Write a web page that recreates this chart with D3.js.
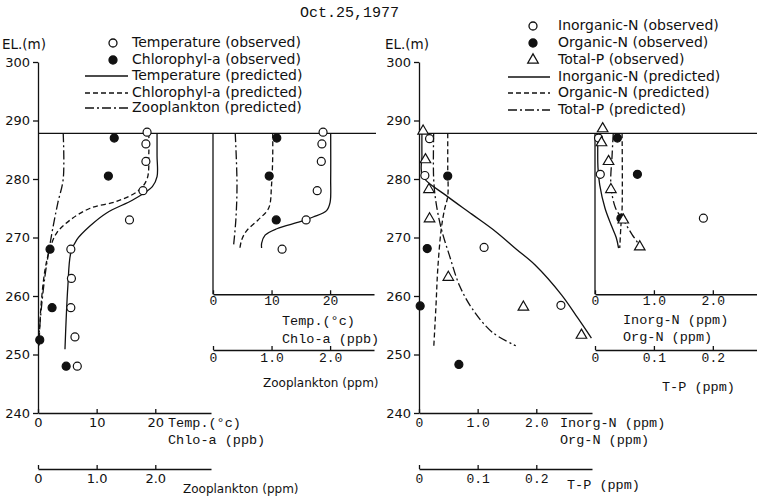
<!DOCTYPE html>
<html>
<head>
<meta charset="utf-8">
<script src="https://cdn.jsdelivr.net/npm/d3@7"></script>
<style>
  body { margin: 0; background: #fff; }
  .sans { font-family: "DejaVu Sans", sans-serif; }
  .mono { font-family: "Liberation Mono", "DejaVu Sans Mono", monospace; }
</style>
</head>
<body>
<svg id="chart" width="757" height="500"></svg>
<script>
// elevation of lake surface and bottom of inset station
const surfaceEl = 287.8;
const insetBottomEl = 260.3;
const elevTicks = [240, 250, 260, 270, 280, 290, 300];

// ---- left panel (main station) ----
const tempObsEl = [288, 286, 283, 278, 273, 268, 263, 258, 253, 248];
const tempObs = [18.6, 18.4, 18.4, 17.9, 15.6, 5.6, 5.7, 5.6, 6.3, 6.7];
const chloObsEl = [287, 280.5, 268, 258, 252.5, 248];
const chloObs = [13.0, 12.0, 2.05, 2.4, 0.3, 4.8];
const tempPredEl = [287.8, 284, 280.4, 278.7, 276.5, 274.2, 272, 269.6, 267.4, 261.8, 256, 250.9];
const tempPred = [20.3, 20.3, 20.3, 19.5, 16.3, 11.7, 8.9, 6.6, 5.6, 5.1, 4.8, 4.6];
const chloPredEl = [287.8, 284.5, 280, 278, 276.2, 275, 273, 270.8, 268, 264.5, 259.4, 254.8, 251.4];
const chloPred = [18.9, 18.9, 18.6, 17.1, 13.5, 8.9, 5.5, 3.2, 2.0, 1.2, 0.6, 0.3, 0.2];
const zooPredEl = [287.8, 280, 276, 272, 268, 263.5, 258.2, 253.7, 251.5];
const zooPred = [0.43, 0.43, 0.34, 0.26, 0.19, 0.12, 0.06, 0.02, 0.0];

// ---- left inset ----
const tempObsInEl = [288, 286, 283, 278, 273, 268];
const tempObsIn = [18.8, 18.6, 18.5, 17.8, 15.9, 11.8];
const chloObsInEl = [287, 280.5, 273];
const chloObsIn = [10.9, 9.6, 10.8];
const tempPredInEl = [287.8, 280, 276, 274.6, 273.5, 272.7, 271.5, 270.4, 269, 268.2];
const tempPredIn = [20.1, 20.1, 20.0, 19.4, 17.1, 14.9, 10.9, 8.9, 8.3, 8.3];
const chloPredInEl = [287.8, 284, 279, 275, 273, 271.1, 269.6, 268.2];
const chloPredIn = [10.2, 10.2, 10.0, 9.5, 7.7, 5.7, 4.9, 4.6];
const zooPredInEl = [287.8, 279, 273, 268.5];
const zooPredIn = [0.38, 0.41, 0.39, 0.35];

// ---- right panel (main station) ----
const inObsEl = [286.9, 280.6, 268.3, 258.4];
const inObs = [0.18, 0.10, 1.11, 2.42];
const orgObsEl = [280.5, 268.1, 258.3, 248.3];
const orgObs = [0.49, 0.14, 0.02, 0.68];
const tpObsEl = [288.2, 283.3, 278.2, 273.2, 263.2, 258.1, 253.3];
const tpObs = [0.007, 0.011, 0.017, 0.018, 0.050, 0.178, 0.277];
const inPredEl = [287.8, 284, 280.5, 277.2, 274, 271, 268, 265.3, 260.2, 256.2, 252.8];
const inPred = [0.05, 0.05, 0.06, 0.46, 0.90, 1.31, 1.66, 1.98, 2.43, 2.71, 2.94];
const orgPredEl = [287.8, 282, 277, 275, 271.5, 264.6, 258.4, 251];
const orgPred = [0.49, 0.49, 0.49, 0.44, 0.38, 0.32, 0.29, 0.25];
const tpPredEl = [287.8, 280, 276, 271.5, 266.9, 261.8, 257.8, 253.8, 251.5];
const tpPred = [0.025, 0.025, 0.029, 0.038, 0.052, 0.069, 0.091, 0.125, 0.165];

// ---- right inset ----
const inObsInEl = [287, 280.8, 273.3];
const inObsIn = [0.06, 0.09, 1.84];
const orgObsInEl = [287, 280.8, 273.3];
const orgObsIn = [0.38, 0.72, 0.44];
const tpObsInEl = [288.6, 286.2, 283, 278.2, 273, 268.4];
const tpObsIn = [0.013, 0.011, 0.023, 0.027, 0.048, 0.076];
const inPredInEl = [287.8, 282, 279, 275, 272, 270, 268.2];
const inPredIn = [0.05, 0.05, 0.08, 0.17, 0.28, 0.36, 0.40];
const orgPredInEl = [287.8, 275, 272, 268.2];
const orgPredIn = [0.46, 0.46, 0.44, 0.42];
const tpPredInEl = [287.8, 284, 279, 275, 273, 270.5, 268.2];
const tpPredIn = [0.031, 0.029, 0.027, 0.035, 0.048, 0.063, 0.079];

const svg = d3.select("#chart");
const ink = "#111";

const y = d3.scaleLinear().domain([240, 300]).range([413, 62]);
const xL = d3.scaleLinear().domain([0, 29.5]).range([38, 211]);
const zL = d3.scaleLinear().domain([0, 2.95]).range([38, 211]);
const xLi = d3.scaleLinear().domain([0, 27.5]).range([213, 374]);
const zLi = d3.scaleLinear().domain([0, 2.75]).range([213, 374]);
const xR = d3.scaleLinear().domain([0, 2.95]).range([419, 592]);
const pR = d3.scaleLinear().domain([0, 0.295]).range([419, 592]);
const xRi = d3.scaleLinear().domain([0, 2.75]).range([595, 757]);
const pRi = d3.scaleLinear().domain([0, 0.275]).range([595, 757]);

const dashes = { solid: null, dashed: "5,3", dashdot: "9,3,2,3" };

function profile(els, vals, sx, style) {
  const line = d3.line()
    .x((d) => sx(d[1]))
    .y((d) => y(d[0]))
    .curve(d3.curveCatmullRom.alpha(0.5));
  svg.append("path")
    .attr("d", line(d3.zip(els, vals)))
    .attr("fill", "none")
    .attr("stroke", ink)
    .attr("stroke-width", 1.3)
    .attr("stroke-dasharray", dashes[style]);
}

function points(els, vals, sx, kind) {
  const g = svg.append("g");
  const data = d3.zip(els, vals);
  if (kind === "tri") {
    g.selectAll("path").data(data).enter().append("path")
      .attr("d", d3.symbol(d3.symbolTriangle, 48))
      .attr("transform", (d) => `translate(${sx(d[1])},${y(d[0])})`)
      .attr("fill", "#fff").attr("stroke", ink).attr("stroke-width", 1.2);
  } else {
    g.selectAll("circle").data(data).enter().append("circle")
      .attr("cx", (d) => sx(d[1]))
      .attr("cy", (d) => y(d[0]))
      .attr("r", 4)
      .attr("fill", kind === "filled" ? ink : "#fff")
      .attr("stroke", ink).attr("stroke-width", 1.2);
  }
}

function xAxis(scale, yPos, ticks, fmt, cls, pad) {
  const g = svg.append("g")
    .attr("transform", `translate(0,${yPos})`)
    .call(d3.axisBottom(scale).tickValues(ticks).tickFormat(fmt)
      .tickSizeInner(-4).tickSizeOuter(0).tickPadding(pad === undefined ? 5 : pad));
  g.attr("font-size", null).attr("font-family", null);
  g.selectAll("text").attr("class", cls).attr("font-size", 13).attr("fill", ink);
  g.selectAll("line, path").attr("stroke", ink).attr("stroke-width", 1.3);
  return g;
}

function yAxis(xPos) {
  const g = svg.append("g")
    .attr("transform", `translate(${xPos},0)`)
    .call(d3.axisLeft(y).tickValues(elevTicks).tickSizeInner(5).tickSizeOuter(0).tickPadding(3));
  g.attr("font-size", null).attr("font-family", null);
  g.selectAll("text").attr("class", "sans").attr("font-size", 13).attr("fill", ink);
  g.selectAll("line, path").attr("stroke", ink).attr("stroke-width", 1.3);
}

function label(x, yPos, txt, cls, size) {
  svg.append("text").attr("x", x).attr("y", yPos).attr("class", cls)
    .attr("font-size", size || 13.5).attr("fill", ink)
    .attr("dominant-baseline", "middle").text(txt);
}

// title
label(300, 13, "Oct.25,1977", "mono", 15);

// ---------- left panel ----------
yAxis(38);
label(2, 45, "EL.(m)", "sans", 13.5);
xAxis(xL, 413, [0, 10, 20], d3.format("d"), "sans");
xAxis(zL, 469, [0, 1, 2], d3.format(".1f"), "sans").select(".tick text").text("0");
label(168, 423, "Temp.(\u00b0c)", "mono");
label(168, 440, "Chlo-a (ppb)", "mono");
label(183, 489, "Zooplankton (ppm)", "sans", 12);

// surface lines
svg.append("line").attr("x1", 38).attr("x2", 376)
  .attr("y1", y(surfaceEl)).attr("y2", y(surfaceEl))
  .attr("stroke", ink).attr("stroke-width", 1.3);
svg.append("line").attr("x1", 419).attr("x2", 757)
  .attr("y1", y(surfaceEl)).attr("y2", y(surfaceEl))
  .attr("stroke", ink).attr("stroke-width", 1.3);

profile(tempPredEl, tempPred, xL, "solid");
profile(chloPredEl, chloPred, xL, "dashed");
profile(zooPredEl, zooPred, zL, "dashdot");
points(tempObsEl, tempObs, xL, "open");
points(chloObsEl, chloObs, xL, "filled");

// left inset
svg.append("line").attr("x1", xLi(0)).attr("x2", xLi(0))
  .attr("y1", y(surfaceEl)).attr("y2", y(insetBottomEl))
  .attr("stroke", ink).attr("stroke-width", 1.3);
xAxis(xLi, y(insetBottomEl), [0, 10, 20], d3.format("d"), "mono", 2);
xAxis(zLi, 350, [0, 1, 2], d3.format(".1f"), "mono", 3).select(".tick text").text("0");
label(282, 321, "Temp.(\u00b0c)", "mono");
label(282, 339, "Chlo-a (ppb)", "mono");
label(263, 383, "Zooplankton (ppm)", "sans", 12);
profile(tempPredInEl, tempPredIn, xLi, "solid");
profile(chloPredInEl, chloPredIn, xLi, "dashed");
profile(zooPredInEl, zooPredIn, zLi, "dashdot");
points(tempObsInEl, tempObsIn, xLi, "open");
points(chloObsInEl, chloObsIn, xLi, "filled");

// legends
function legend(items, ys, xSym, xLine0, xLine1, xText) {
  items.forEach((it, i) => {
    const yy = ys[i];
    if (it[0] === "open" || it[0] === "filled") {
      svg.append("circle").attr("cx", xSym).attr("cy", yy).attr("r", 4)
        .attr("fill", it[0] === "filled" ? ink : "#fff").attr("stroke", ink).attr("stroke-width", 1.3);
    } else if (it[0] === "tri") {
      svg.append("path").attr("d", d3.symbol(d3.symbolTriangle, 48))
        .attr("transform", `translate(${xSym},${yy})`)
        .attr("fill", "#fff").attr("stroke", ink).attr("stroke-width", 1.3);
    } else {
      svg.append("line").attr("x1", xLine0).attr("x2", xLine1).attr("y1", yy).attr("y2", yy)
        .attr("stroke", ink).attr("stroke-width", 1.3).attr("stroke-dasharray", dashes[it[0]]);
    }
    label(xText, yy, it[1], "sans", 14);
  });
}
const legL = [
  ["open", "Temperature (observed)"],
  ["filled", "Chlorophyl-a (observed)"],
  ["solid", "Temperature (predicted)"],
  ["dashed", "Chlorophyl-a (predicted)"],
  ["dashdot", "Zooplankton (predicted)"]
];
legend(legL, [43, 60, 76, 93, 108], 113, 85, 128, 132);

// ---------- right panel ----------
yAxis(419);
label(385, 45, "EL.(m)", "sans", 13.5);
xAxis(xR, 413, [0, 1, 2], d3.format(".1f"), "mono").select(".tick text").text("0");
xAxis(pR, 469, [0, 0.1, 0.2], d3.format(".1f"), "mono").select(".tick text").text("0");
label(560, 423, "Inorg-N (ppm)", "mono");
label(560, 440, "Org-N (ppm)", "mono");
label(567, 485, "T-P (ppm)", "mono");

profile(inPredEl, inPred, xR, "solid");
profile(orgPredEl, orgPred, xR, "dashed");
profile(tpPredEl, tpPred, pR, "dashdot");
points(inObsEl, inObs, xR, "open");
points(orgObsEl, orgObs, xR, "filled");
points(tpObsEl, tpObs, pR, "tri");

// right inset
svg.append("line").attr("x1", xRi(0)).attr("x2", xRi(0))
  .attr("y1", y(surfaceEl)).attr("y2", y(insetBottomEl))
  .attr("stroke", ink).attr("stroke-width", 1.3);
xAxis(xRi, y(insetBottomEl), [0, 1, 2], d3.format(".1f"), "mono", 2).select(".tick text").text("0");
xAxis(pRi, 350, [0, 0.1, 0.2], d3.format(".1f"), "mono", 3).select(".tick text").text("0");
label(623, 320, "Inorg-N (ppm)", "mono");
label(623, 337, "Org-N (ppm)", "mono");
label(662, 387, "T-P (ppm)", "mono");
profile(inPredInEl, inPredIn, xRi, "solid");
profile(orgPredInEl, orgPredIn, xRi, "dashed");
profile(tpPredInEl, tpPredIn, pRi, "dashdot");
points(inObsInEl, inObsIn, xRi, "open");
points(orgObsInEl, orgObsIn, xRi, "filled");
points(tpObsInEl, tpObsIn, pRi, "tri");

const legR = [
  ["open", "Inorganic-N (observed)"],
  ["filled", "Organic-N (observed)"],
  ["tri", "Total-P (observed)"],
  ["solid", "Inorganic-N (predicted)"],
  ["dashed", "Organic-N (predicted)"],
  ["dashdot", "Total-P (predicted)"]
];
legend(legR, [26, 43, 60, 77, 93, 110], 533, 508, 550, 558);
</script>
</body>
</html>
